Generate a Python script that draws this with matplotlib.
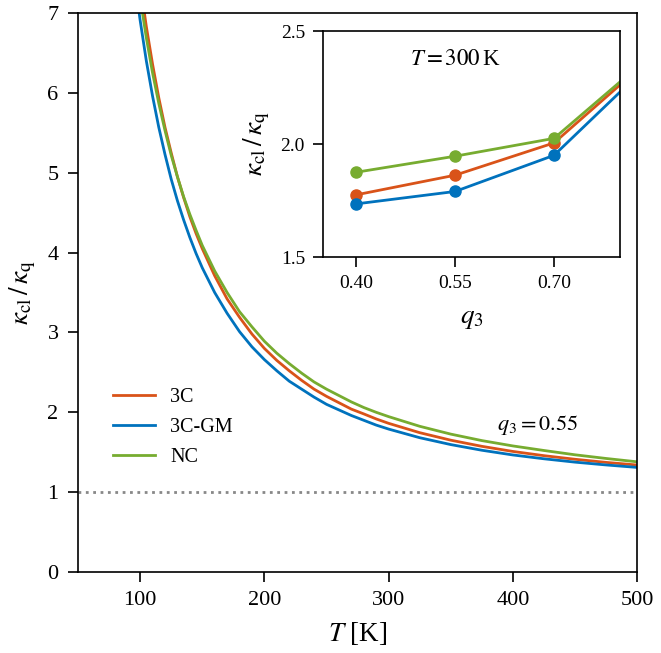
import matplotlib
matplotlib.use("Agg")
import matplotlib.pyplot as plt

plt.rcParams['font.family'] = 'serif'
plt.rcParams['font.serif'] = ['Liberation Serif', 'DejaVu Serif']
plt.rcParams['mathtext.fontset'] = 'stix'

# Main panel data: kappa_cl / kappa_q vs T (q3 = 0.55)
T = [95, 100, 105, 110, 115, 120, 125, 130, 135, 140, 145, 150, 160, 170, 180, 190, 200,
     210, 220, 230, 240, 250, 260, 270, 280, 290, 300, 325, 350, 375, 400, 425, 450, 475, 500]
ratio_3C = [8.00, 7.37, 6.83, 6.36, 5.94, 5.57, 5.25, 4.95, 4.69, 4.45, 4.24, 4.05, 3.71, 3.42,
            3.19, 2.98, 2.80, 2.65, 2.52, 2.40, 2.29, 2.20, 2.12, 2.04, 1.98, 1.917, 1.862,
            1.745, 1.651, 1.574, 1.510, 1.457, 1.412, 1.373, 1.340]
ratio_3CGM = [7.49, 6.91, 6.40, 5.96, 5.57, 5.23, 4.92, 4.65, 4.41, 4.19, 3.99, 3.81, 3.50, 3.24,
              3.01, 2.82, 2.66, 2.52, 2.39, 2.29, 2.19, 2.10, 2.03, 1.96, 1.90, 1.84, 1.790,
              1.682, 1.596, 1.525, 1.466, 1.418, 1.376, 1.341, 1.310]
ratio_NC = [7.75, 7.19, 6.69, 6.25, 5.87, 5.53, 5.22, 4.95, 4.70, 4.48, 4.28, 4.09, 3.77, 3.50,
            3.26, 3.07, 2.89, 2.74, 2.61, 2.49, 2.38, 2.29, 2.21, 2.13, 2.06, 2.00, 1.946,
            1.825, 1.727, 1.646, 1.579, 1.522, 1.468, 1.422, 1.380]

# Inset data: ratio at T = 300 K vs q3
q3 = [0.40, 0.55, 0.70, 0.85]
inset_3C = [1.775, 1.862, 2.005, 2.39]
inset_3CGM = [1.735, 1.790, 1.950, 2.37]
inset_NC = [1.875, 1.946, 2.025, 2.40]

labels = ['3C', '3C-GM', 'NC']
colors = ['#D95319', '#0072BD', '#77AC30']

fig = plt.figure(figsize=(6.61, 6.53), dpi=100)
ax = fig.add_axes([0.118, 0.124, 0.846, 0.856])

for y, lab, c in zip([ratio_3C, ratio_3CGM, ratio_NC], labels, colors):
    ax.plot(T, y, color=c, lw=2, label=lab)
ax.axhline(1.0, color='#888888', ls=':', lw=2)

ax.set_xlim(50, 500)
ax.set_ylim(0, 7)
ax.set_xticks([100, 200, 300, 400, 500])
ax.set_yticks(range(0, 8))
ax.tick_params(labelsize=16, direction='out', length=7, width=1.2, pad=7)
ax.set_xlabel(r'$T$ [K]', fontsize=19.5, labelpad=7)
ax.set_ylabel(r'$\kappa_{\rm cl}\,/\,\kappa_{\rm q}$', fontsize=19.5, labelpad=7)
for s in ax.spines.values():
    s.set_linewidth(1.2)

ax.legend(loc='upper left', bbox_to_anchor=(0.062, 0.33), frameon=False,
          fontsize=14.5, handlelength=2.1, handletextpad=0.75,
          labelspacing=0.55, borderpad=0, borderaxespad=0)
ax.text(387, 1.84, r'$q_3 = 0.55$', fontsize=16, va='center', ha='left')

# Inset
ins = fig.add_axes([0.4887, 0.6064, 0.4493, 0.3461])
for y, c in zip([inset_3C, inset_3CGM, inset_NC], colors):
    ins.plot(q3, y, color=c, lw=2, marker='o', ms=8, clip_on=True)
ins.set_xlim(0.35, 0.80)
ins.set_ylim(1.5, 2.5)
ins.set_xticks([0.40, 0.55, 0.70])
ins.set_xticklabels(['0.40', '0.55', '0.70'])
ins.set_yticks([1.5, 2.0, 2.5])
ins.set_yticklabels(['1.5', '2.0', '2.5'])
ins.tick_params(labelsize=14, direction='out', length=7, width=1.2, pad=6)
ins.set_xlabel(r'$q_3$', fontsize=19.5, labelpad=10)
ins.set_ylabel(r'$\kappa_{\rm cl}\,/\,\kappa_{\rm q}$', fontsize=19.5, labelpad=6)
for s in ins.spines.values():
    s.set_linewidth(1.2)
ins.text(0.55, 2.375, r'$T = 300\,$K', fontsize=16.5, ha='center', va='center')

fig.savefig('out.png', dpi=100)
